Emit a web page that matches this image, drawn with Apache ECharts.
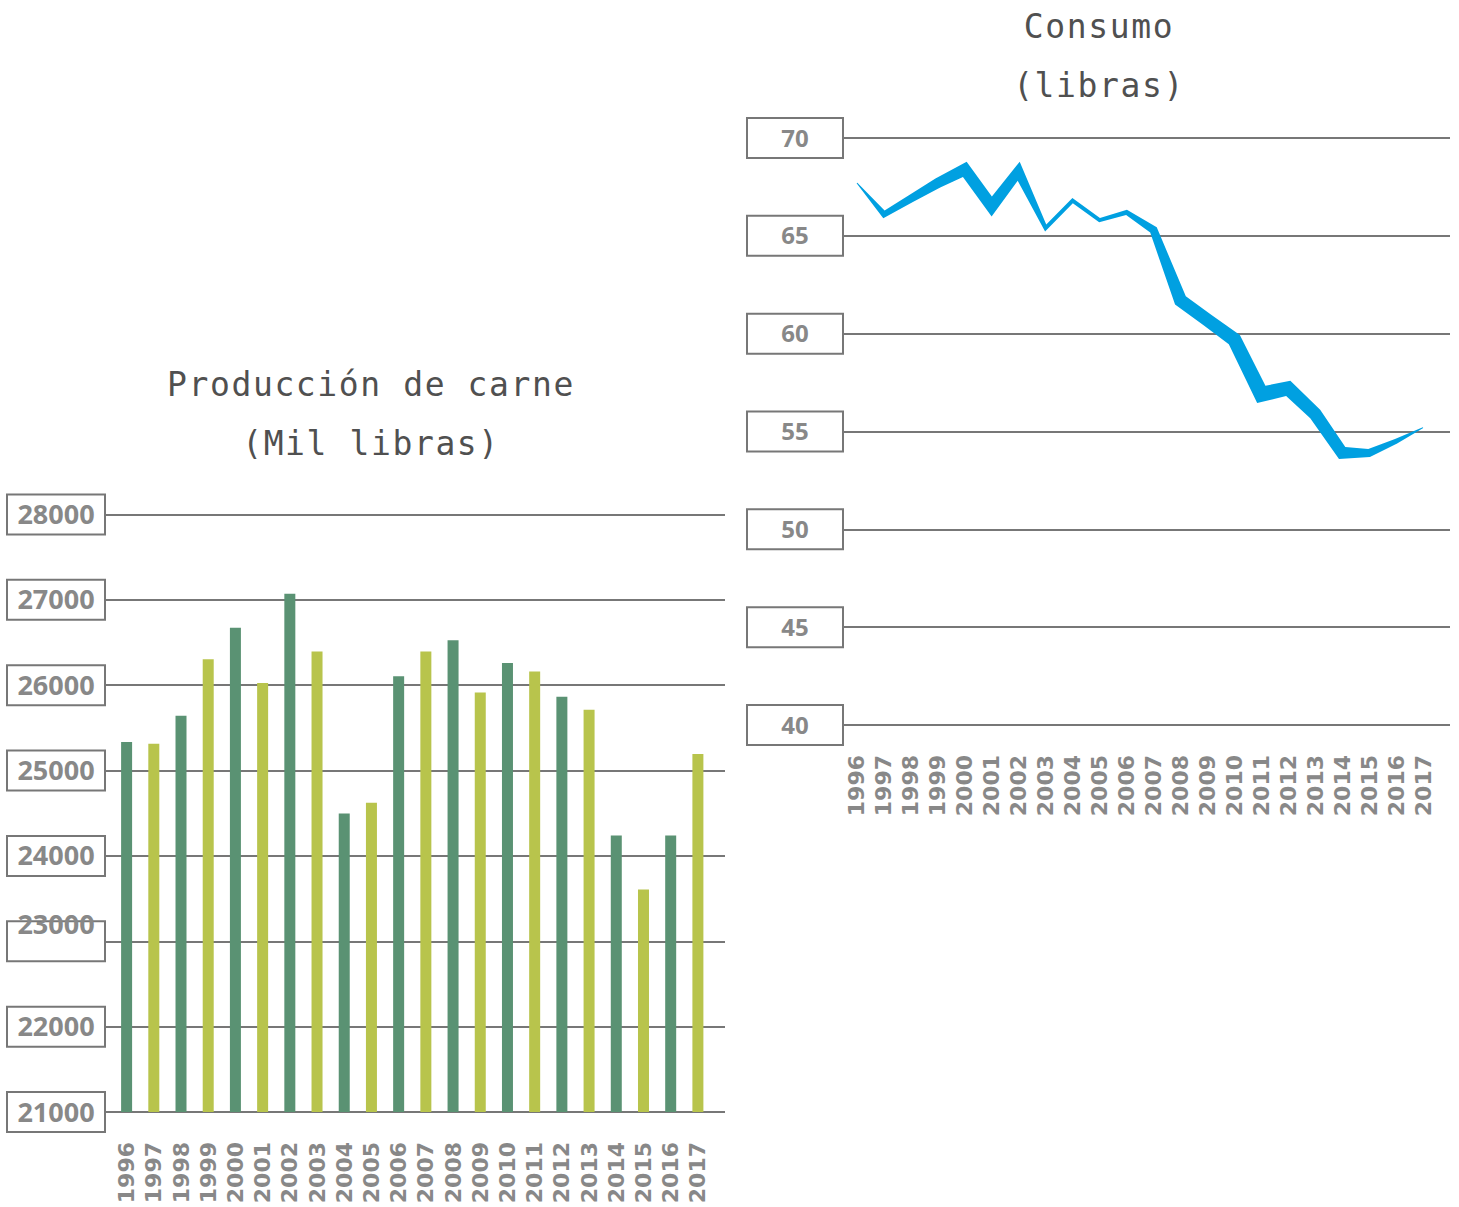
<!DOCTYPE html>
<html>
<head>
<meta charset="utf-8">
<script src="https://cdn.jsdelivr.net/npm/echarts@6/dist/echarts.min.js"></script>
<style>
  html, body { margin: 0; padding: 0; background: #fff; }
  #chart { width: 1459px; height: 1207px; }
  text[style*="Mono"], text[font-family*="Mono"] { letter-spacing: 1.6px; }
</style>
</head>
<body>
<div id="chart"></div>
<script>
// ---- data ----
const years = ['1996','1997','1998','1999','2000','2001','2002','2003','2004','2005','2006',
               '2007','2008','2009','2010','2011','2012','2013','2014','2015','2016','2017'];
const produccion = [25336, 25314, 25643, 26305, 26673, 26026, 27072, 26394, 24498, 24623, 26104,
                    26394, 26527, 25916, 26260, 26160, 25866, 25713, 24239, 23607, 24239, 25194];
const consumo = [67.7, 66.1, 66.9, 67.7, 68.4, 66.5, 68.3, 65.4, 66.8, 65.8, 66.2,
                 65.3, 61.7, 60.7, 59.7, 56.9, 57.2, 55.9, 53.9, 53.9, 54.5, 55.2];
const produccionTicks = [21000, 22000, 23000, 24000, 25000, 26000, 27000, 28000];
const consumoTicks = [40, 45, 50, 55, 60, 65, 70];

// ---- styles ----
const strokeWidths = [1, 6, 8, 10, 12, 12, 10, 4, 4, 4, 5, 8, 13, 13, 14, 15, 14, 13, 12, 8, 5, 1];
const DARK = '#5a9273', LIGHT = '#b8c44c', BLUE = '#00a0e1';
const GRID_COLOR = '#777777', LABEL_COLOR = '#888888';

const chart = echarts.init(document.getElementById('chart'), null, { renderer: 'svg' });

function boxLabel(margin, w, fs, special) {
  const base = { fontFamily: 'Open Sans', fontWeight: 700, fontSize: fs, color: LABEL_COLOR, align: 'center' };
  return {
    margin: margin, align: 'center', verticalAlign: 'middle',
    width: w, height: 38, lineHeight: 38,
    borderColor: GRID_COLOR, borderWidth: 2, backgroundColor: '#fff',
    formatter: v => (special && v === special) ? '{up|' + v + '}' : '{n|' + v + '}',
    rich: {
      n: Object.assign({ lineHeight: 36 }, base),
      up: Object.assign({ lineHeight: 20, padding: [0, 0, 18, 0] }, base)
    }
  };
}

const yearLabel = {
  rotate: 90, margin: 30, color: LABEL_COLOR,
  fontFamily: 'DejaVu Sans', fontWeight: 'bold', fontSize: 22, interval: 0
};

function taperedPolygon(pts, widths) {
  const n = pts.length, L = [], R = [];
  for (let i = 0; i < n; i++) {
    const hw = widths[i] / 2;
    let nx, ny, len;
    if (i === 0 || i === n - 1) {
      const a = i === 0 ? pts[0] : pts[n - 2];
      const b = i === 0 ? pts[1] : pts[n - 1];
      const dx = b[0] - a[0], dy = b[1] - a[1], d = Math.hypot(dx, dy);
      nx = -dy / d; ny = dx / d; len = hw;
    } else {
      let dx1 = pts[i][0] - pts[i-1][0], dy1 = pts[i][1] - pts[i-1][1];
      let d1 = Math.hypot(dx1, dy1); dx1 /= d1; dy1 /= d1;
      let dx2 = pts[i+1][0] - pts[i][0], dy2 = pts[i+1][1] - pts[i][1];
      let d2 = Math.hypot(dx2, dy2); dx2 /= d2; dy2 /= d2;
      const n1x = -dy1, n1y = dx1, n2x = -dy2, n2y = dx2;
      let mx = n1x + n2x, my = n1y + n2y;
      const ml = Math.hypot(mx, my) || 1;
      mx /= ml; my /= ml;
      const cos = mx * n1x + my * n1y;
      len = Math.min(hw / Math.max(cos, 0.01), hw * 2.5);
      nx = mx; ny = my;
    }
    L.push([pts[i][0] + nx * len, pts[i][1] + ny * len]);
    R.push([pts[i][0] - nx * len, pts[i][1] - ny * len]);
  }
  return L.concat(R.reverse());
}

const titleStyle = {
  fontFamily: 'DejaVu Sans Mono', fontSize: 33, fontWeight: 'normal', color: '#505050', lineHeight: 59
};

const option = {
  animation: false,
  backgroundColor: '#fff',
  title: [
    { text: 'Producción de carne\n(Mil libras)', left: 366, top: 350, textAlign: 'center', textStyle: titleStyle },
    { text: 'Consumo\n(libras)', left: 1094, top: -8, textAlign: 'center', textStyle: titleStyle }
  ],
  grid: [
    { left: 105, right: 1459 - 725, top: 514.5, bottom: 1207 - 1112 },
    { left: 113, right: 1459 - 711.5, top: 514.5, bottom: 1207 - 1112 },
    { left: 843, right: 1459 - 1450, top: 138, bottom: 1207 - 725 },
    { left: 843.5, right: 1459 - 1436.5, top: 138, bottom: 1207 - 725 }
  ],
  xAxis: [
    { gridIndex: 0, type: 'value', min: 0, max: 1, show: false },
    { gridIndex: 1, type: 'category', data: years, axisLine: { show: false }, axisTick: { show: false }, axisLabel: yearLabel },
    { gridIndex: 2, type: 'value', min: 0, max: 1, show: false },
    { gridIndex: 3, type: 'category', data: years, axisLine: { show: false }, axisTick: { show: false }, axisLabel: yearLabel }
  ],
  yAxis: [
    { gridIndex: 0, type: 'value', min: produccionTicks[0], max: produccionTicks[produccionTicks.length - 1], interval: 1000,
      axisLine: { show: false }, axisTick: { show: false },
      splitLine: { show: true, lineStyle: { color: GRID_COLOR, width: 2 } },
      axisLabel: boxLabel(49, 96, 27, 23000) },
    { gridIndex: 1, type: 'value', min: produccionTicks[0], max: produccionTicks[produccionTicks.length - 1], show: false },
    { gridIndex: 2, type: 'value', min: consumoTicks[0], max: consumoTicks[consumoTicks.length - 1], interval: 5,
      axisLine: { show: false }, axisTick: { show: false },
      splitLine: { show: true, lineStyle: { color: GRID_COLOR, width: 2 } },
      axisLabel: boxLabel(48, 94, 24, null) },
    { gridIndex: 3, type: 'value', min: consumoTicks[0], max: consumoTicks[consumoTicks.length - 1], show: false }
  ],
  series: [
    {
      type: 'bar', xAxisIndex: 1, yAxisIndex: 1, barWidth: 11, data: produccion, z: 3,
      itemStyle: { color: p => (p.dataIndex % 2 === 0 ? DARK : LIGHT) }
    },
    {
      type: 'custom', xAxisIndex: 3, yAxisIndex: 3, z: 3,
      data: consumo.map((v, i) => [i, v]),
      encode: { x: 0, y: 1 },
      renderItem: function (params, api) {
        if (params.dataIndex !== 0) return { type: 'group', children: [] };
        const pts = consumo.map((v, i) => api.coord([i, v]));
        return {
          type: 'polygon',
          shape: { points: taperedPolygon(pts, strokeWidths) },
          style: { fill: BLUE, stroke: null }
        };
      }
    }
  ]
};
chart.setOption(option);
</script>
</body>
</html>
